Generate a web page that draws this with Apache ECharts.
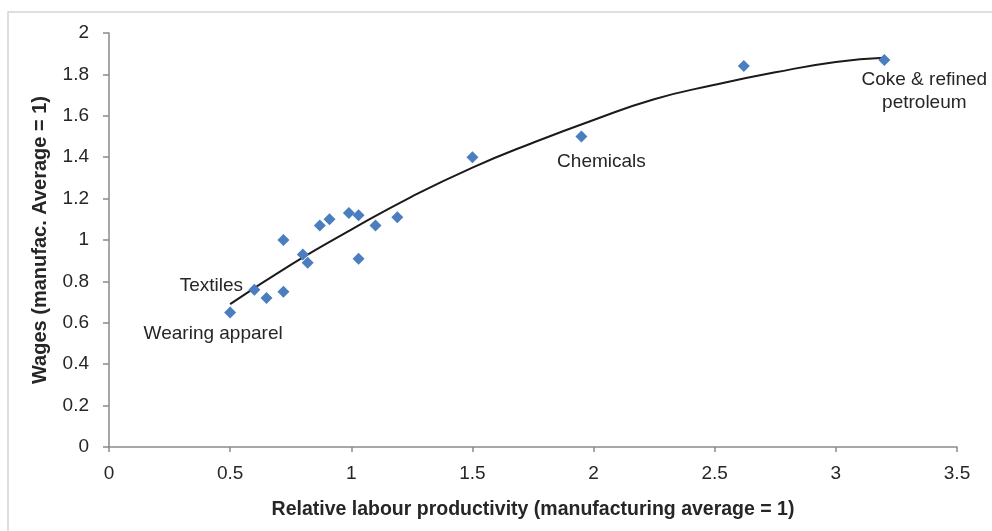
<!DOCTYPE html>
<html>
<head>
<meta charset="utf-8">
<script src="https://cdn.jsdelivr.net/npm/echarts@6/dist/echarts.min.js"></script>
<style>
html,body{margin:0;padding:0;background:#fff;}
#chart{width:992px;height:531px;}
</style>
</head>
<body>
<div id="chart"></div>
<script>
// Relative labour productivity (x) and wages (y) per manufacturing sector
const sectorNames = ['Wearing apparel','Textiles','','','','','','','','','','','','','','Chemicals','','Coke & refined\npetroleum'];
const productivity = [0.50,0.60,0.65,0.72,0.72,0.80,0.82,0.87,0.91,0.99,1.03,1.03,1.10,1.19,1.50,1.95,2.62,3.20];
const wages        = [0.65,0.76,0.72,0.75,1.00,0.93,0.89,1.07,1.10,1.13,1.12,0.91,1.07,1.11,1.40,1.50,1.84,1.87];

// Fitted trend line
const trendX = [0.5,0.75,1.0,1.25,1.5,1.75,2.0,2.25,2.5,2.75,3.0,3.2];
const trendY = [0.69,0.88,1.05,1.21,1.35,1.47,1.58,1.68,1.75,1.81,1.86,1.88];

// Axis ticks
const xMin = 0, xMax = 3.5, xStep = 0.5;
const yMin = 0, yMax = 2, yStep = 0.2;

const labelOffsets = {
  'Wearing apparel': [-17, 21],
  'Textiles': [-43, -4],
  'Chemicals': [20, 25],
  'Coke & refined\npetroleum': [40, 31]
};

const textColor = '#262626';
const font = 'Liberation Sans, Arial, sans-serif';

const scatterData = productivity.map((x, i) => {
  const name = sectorNames[i];
  const item = { name: name, value: [x, wages[i]] };
  if (name) {
    item.label = {
      show: true,
      position: 'inside',
      offset: labelOffsets[name],
      formatter: name,
      color: textColor,
      opacity: 1,
      textBorderWidth: 0,
      fontSize: 19,
      fontFamily: font,
      lineHeight: 23,
      align: 'center'
    };
  }
  return item;
});

const chart = echarts.init(document.getElementById('chart'), null, {renderer: 'canvas'});
chart.setOption({
  animation: false,
  backgroundColor: '#ffffff',
  grid: { left: 109, right: 35, top: 33, bottom: 84 },
  graphic: [{
    type: 'polyline',
    shape: { points: [[8, 531], [8, 12], [992, 12]] },
    style: { stroke: '#d4d4d4', lineWidth: 1.5, fill: null },
    silent: true
  }],
  xAxis: {
    type: 'value',
    min: xMin, max: xMax, interval: xStep,
    name: 'Relative labour productivity (manufacturing average = 1)',
    nameLocation: 'middle',
    nameGap: 53,
    nameTextStyle: { color: textColor, fontSize: 19.5, fontWeight: 'bold', fontFamily: font },
    axisLine: { lineStyle: { color: '#8a8a8a', width: 1.5 } },
    axisTick: { show: true, length: 5, lineStyle: { color: '#8a8a8a', width: 1.5 } },
    axisLabel: { color: textColor, fontSize: 19, fontFamily: font, margin: 17 },
    splitLine: { show: false }
  },
  yAxis: {
    type: 'value',
    min: yMin, max: yMax, interval: yStep,
    name: 'Wages (manufac. Average = 1)',
    nameLocation: 'middle',
    nameGap: 59,
    nameTextStyle: { color: textColor, fontSize: 20, fontWeight: 'bold', fontFamily: font },
    axisLine: { show: true, lineStyle: { color: '#8a8a8a', width: 1.5 } },
    axisTick: { show: true, length: 6, lineStyle: { color: '#8a8a8a', width: 1.5 } },
    axisLabel: { color: textColor, fontSize: 19, fontFamily: font, margin: 20 },
    splitLine: { show: false }
  },
  series: [
    {
      type: 'line',
      data: trendX.map((x, i) => [x, trendY[i]]),
      smooth: true,
      showSymbol: false,
      lineStyle: { color: '#1a1a1a', width: 2 },
      z: 3,
      silent: true
    },
    {
      type: 'scatter',
      symbol: 'diamond',
      symbolSize: [12, 12],
      itemStyle: { color: '#4a7ebf', opacity: 1 },
      data: scatterData,
      z: 4
    }
  ]
});
</script>
</body>
</html>
